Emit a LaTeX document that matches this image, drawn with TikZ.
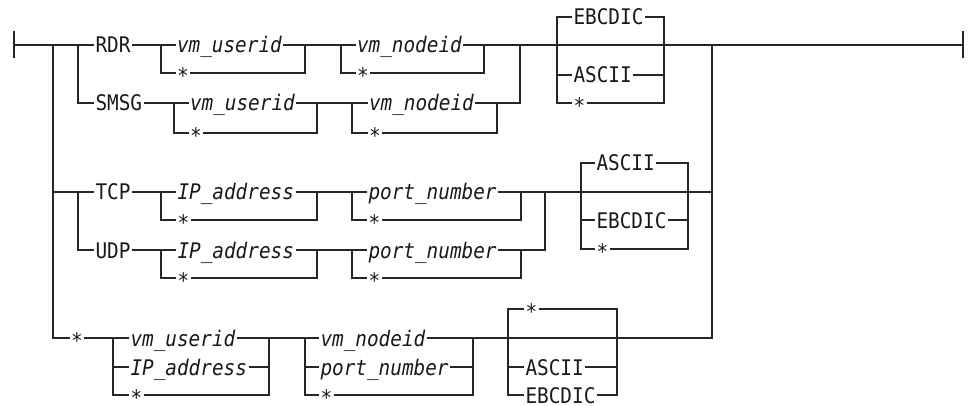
\documentclass[tikz,border=0pt]{standalone}
\usepackage{fontspec}
\usepackage{tikz}
\newfontfamily\railfont[FakeStretch=0.9]{DejaVu Sans Mono}
\newcommand{\optstar}{\raisebox{-2.5pt}{*}}

\begin{document}
\begin{tikzpicture}[x=1pt, y=-1pt,
      kw/.style={font=\fontsize{21.5}{24}\railfont, text=black!90, inner sep=0pt,
                 outer xsep=1.5pt, text height=16pt, text depth=0pt, anchor=west},
      var/.style={kw, font=\fontsize{21.5}{24}\railfont\itshape},
      track/.style={line width=1.2pt, draw=black!85}
    ]
      \useasboundingbox (0,0) rectangle (968,406);

      % Junctions
      \coordinate (start) at (14,45);
      \coordinate (stop) at (963,45);
      \coordinate (fork) at (53,45);
      \coordinate (fork1) at (78,45);
      \coordinate (fork3) at (78,192);
      \coordinate (join) at (712,45);
      \coordinate (join1) at (520,45);
      \coordinate (join3) at (545,192);
      \coordinate (uid1l) at (161,45);   \coordinate (uid1r) at (305,45);
      \coordinate (nid1l) at (341,45);   \coordinate (nid1r) at (484,45);
      \coordinate (uid2l) at (174,103);  \coordinate (uid2r) at (317,103);
      \coordinate (nid2l) at (352,103);  \coordinate (nid2r) at (497,103);
      \coordinate (cs1l) at (557,45);    \coordinate (cs1r) at (664,45);
      \coordinate (ip3l) at (161,192);   \coordinate (ip3r) at (317,192);
      \coordinate (port3l) at (352,192); \coordinate (port3r) at (521,192);
      \coordinate (ip4l) at (161,250);   \coordinate (ip4r) at (317,250);
      \coordinate (port4l) at (352,250); \coordinate (port4r) at (521,250);
      \coordinate (cs3l) at (581,192);   \coordinate (cs3r) at (688,192);
      \coordinate (uid5l) at (113,338);  \coordinate (uid5r) at (269,338);
      \coordinate (nid5l) at (305,338);  \coordinate (nid5r) at (473,338);
      \coordinate (cs5l) at (508,338);   \coordinate (cs5r) at (617,338);

      % RDR / SMSG
      \node[kw] (rdr) at (94,45) {RDR};
      \node[var] (uid1) at (175.5,45) {vm\_userid};
      \node[kw] (uid1s) at (175.5,73) {\optstar};
      \node[var] (nid1) at (355.5,45) {vm\_nodeid};
      \node[kw] (nid1s) at (355.5,73) {\optstar};
      \node[kw] (smsg) at (94,103) {SMSG};
      \node[var] (uid2) at (188.5,103) {vm\_userid};
      \node[kw] (uid2s) at (188.5,133) {\optstar};
      \node[var] (nid2) at (367.5,103) {vm\_nodeid};
      \node[kw] (nid2s) at (367.5,133) {\optstar};
      \node[kw] (ebc1) at (572,17) {EBCDIC};
      \node[kw] (asc1) at (572,75) {ASCII};
      \node[kw] (cs1s) at (572,103) {\optstar};

      % TCP / UDP
      \node[kw] (tcp) at (94,192) {TCP};
      \node[var] (ip3) at (176,192) {IP\_address};
      \node[kw] (ip3s) at (176,220) {\optstar};
      \node[var] (port3) at (367,192) {port\_number};
      \node[kw] (port3s) at (367,220) {\optstar};
      \node[kw] (udp) at (94,250) {UDP};
      \node[var] (ip4) at (176,250) {IP\_address};
      \node[kw] (ip4s) at (176,278) {\optstar};
      \node[var] (port4) at (367,250) {port\_number};
      \node[kw] (port4s) at (367,278) {\optstar};
      \node[kw] (asc3) at (595,163) {ASCII};
      \node[kw] (ebc3) at (595,220) {EBCDIC};
      \node[kw] (cs3s) at (595,249) {\optstar};

      % Any
      \node[kw] (any5) at (69.5,338) {\optstar};
      \node[var] (uid5) at (129,338) {vm\_userid};
      \node[var] (ip5) at (129,367) {IP\_address};
      \node[kw] (uid5s) at (129,395) {\optstar};
      \node[var] (nid5) at (319,338) {vm\_nodeid};
      \node[var] (port5) at (319,367) {port\_number};
      \node[kw] (nid5s) at (319,395) {\optstar};
      \node[kw] (cs5s) at (524,309) {\optstar};
      \node[kw] (asc5) at (524,367) {ASCII};
      \node[kw] (ebc5) at (524,395) {EBCDIC};

      % Main rail
      \draw[track] (start) ++(0,-13.5) -- ++(0,27);
      \draw[track] (stop) ++(0,-13.5) -- ++(0,27);
      \draw[track] (start) -- (rdr);
      \draw[track] (rdr) -- (uid1);
      \draw[track] (uid1l) |- (uid1s);
      \draw[track] (uid1s) -| (uid1r);
      \draw[track] (uid1) -- (nid1);
      \draw[track] (nid1l) |- (nid1s);
      \draw[track] (nid1s) -| (nid1r);
      \draw[track] (nid1) -- (stop);
      \draw[track] (fork1) |- (smsg);
      \draw[track] (smsg) -- (uid2);
      \draw[track] (uid2l) |- (uid2s);
      \draw[track] (uid2s) -| (uid2r);
      \draw[track] (uid2) -- (nid2);
      \draw[track] (nid2l) |- (nid2s);
      \draw[track] (nid2s) -| (nid2r);
      \draw[track] (nid2) -| (join1);
      \draw[track] (cs1l) |- (ebc1);
      \draw[track] (ebc1) -| (cs1r);
      \draw[track] (cs1l) |- (asc1);
      \draw[track] (asc1) -| (cs1r);
      \draw[track] (cs1l) |- (cs1s);
      \draw[track] (cs1s) -| (cs1r);

      % TCP / UDP rail
      \draw[track] (fork) |- (tcp);
      \draw[track] (tcp) -- (ip3);
      \draw[track] (ip3l) |- (ip3s);
      \draw[track] (ip3s) -| (ip3r);
      \draw[track] (ip3) -- (port3);
      \draw[track] (port3l) |- (port3s);
      \draw[track] (port3s) -| (port3r);
      \draw[track] (port3) -| (join);
      \draw[track] (fork3) |- (udp);
      \draw[track] (udp) -- (ip4);
      \draw[track] (ip4l) |- (ip4s);
      \draw[track] (ip4s) -| (ip4r);
      \draw[track] (ip4) -- (port4);
      \draw[track] (port4l) |- (port4s);
      \draw[track] (port4s) -| (port4r);
      \draw[track] (port4) -| (join3);
      \draw[track] (cs3l) |- (asc3);
      \draw[track] (asc3) -| (cs3r);
      \draw[track] (cs3l) |- (ebc3);
      \draw[track] (ebc3) -| (cs3r);
      \draw[track] (cs3l) |- (cs3s);
      \draw[track] (cs3s) -| (cs3r);

      % Any rail
      \draw[track] (fork) |- (any5);
      \draw[track] (any5) -- (uid5);
      \draw[track] (uid5l) |- (ip5);
      \draw[track] (ip5) -| (uid5r);
      \draw[track] (uid5l) |- (uid5s);
      \draw[track] (uid5s) -| (uid5r);
      \draw[track] (uid5) -- (nid5);
      \draw[track] (nid5l) |- (port5);
      \draw[track] (port5) -| (nid5r);
      \draw[track] (nid5l) |- (nid5s);
      \draw[track] (nid5s) -| (nid5r);
      \draw[track] (nid5) -| (join);
      \draw[track] (cs5l) |- (cs5s);
      \draw[track] (cs5s) -| (cs5r);
      \draw[track] (cs5l) |- (asc5);
      \draw[track] (asc5) -| (cs5r);
      \draw[track] (cs5l) |- (ebc5);
      \draw[track] (ebc5) -| (cs5r);
    \end{tikzpicture}
\end{document}
